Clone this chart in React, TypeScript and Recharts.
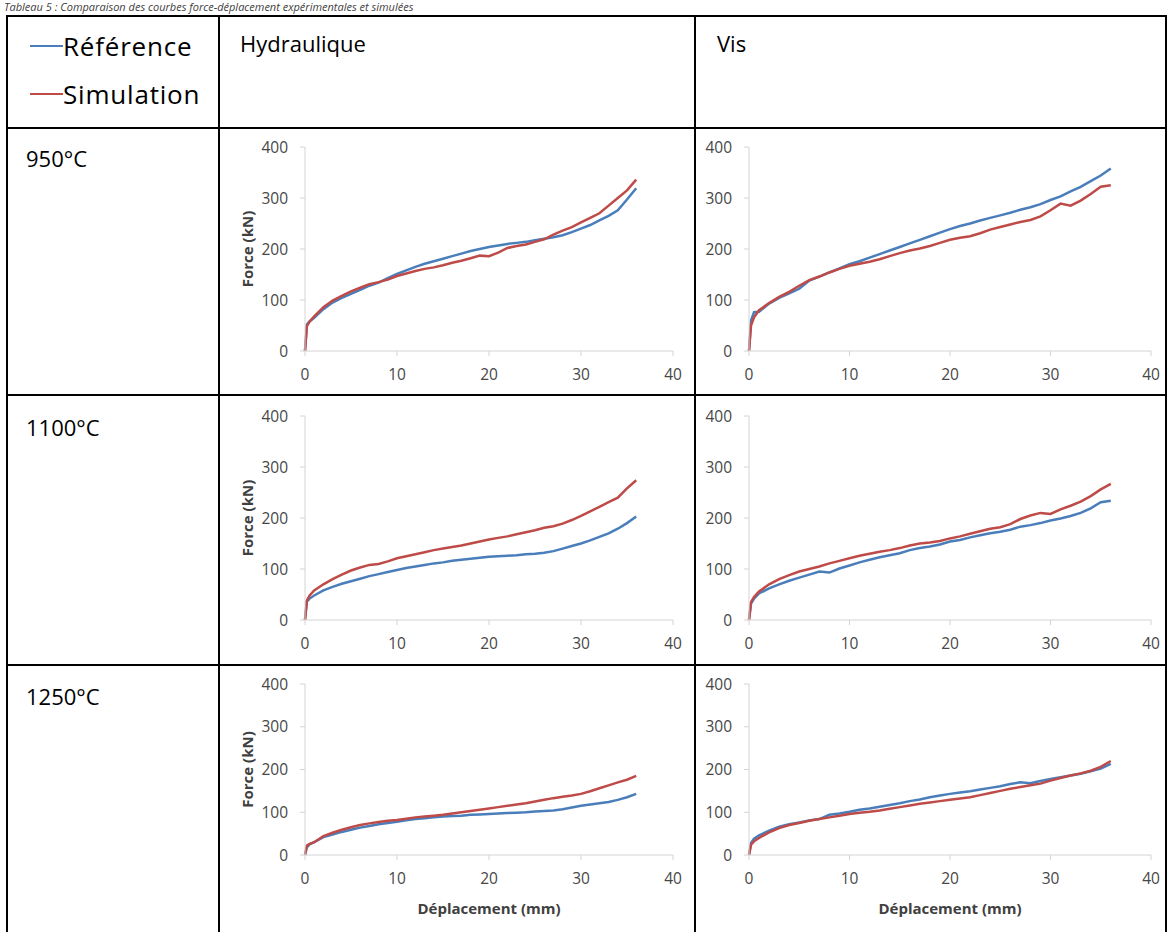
import React from "react";
import { LineChart, Line, XAxis, YAxis } from "recharts";

// displacement (mm) sampled along every curve
const displacement = [0, 0.2, 0.5, 1, 2, 3, 4, 5, 6, 7, 8, 9, 10, 11, 12, 13, 14, 15, 16, 17, 18, 19, 20, 21, 22, 23, 24, 25, 26, 27, 28, 29, 30, 31, 32, 33, 34, 35, 36];

// force (kN) — Référence / Simulation
const hyd950Ref = [0, 52, 58, 65, 82, 95, 104, 112, 120, 128, 134, 143, 151, 158, 165, 171, 176, 181, 186, 191, 196, 200, 204, 207, 210, 212, 214, 217, 220, 223, 227, 233, 240, 247, 256, 265, 276, 297, 319];
const hyd950Sim = [0, 48, 58, 68, 86, 99, 108, 117, 124, 131, 135, 140, 147, 152, 157, 161, 164, 168, 173, 177, 182, 187, 186, 193, 202, 206, 209, 214, 219, 228, 236, 243, 252, 261, 270, 285, 300, 315, 336];
const vis950Ref = [0, 60, 76, 77, 93, 104, 113, 122, 138, 146, 154, 162, 170, 176, 183, 190, 197, 204, 211, 218, 225, 232, 239, 245, 250, 256, 261, 266, 271, 277, 282, 288, 296, 303, 313, 322, 333, 344, 358];
const vis950Sim = [0, 50, 66, 80, 94, 106, 116, 128, 139, 146, 154, 161, 167, 171, 175, 180, 186, 192, 197, 201, 206, 212, 218, 222, 225, 231, 238, 243, 248, 253, 257, 264, 276, 289, 285, 295, 308, 322, 325];
const hyd1100Ref = [0, 36, 42, 48, 58, 65, 71, 76, 81, 86, 90, 94, 98, 102, 105, 108, 111, 113, 116, 118, 120, 122, 124, 125, 126, 127, 129, 130, 132, 135, 140, 145, 150, 156, 163, 170, 179, 190, 203];
const hyd1100Sim = [0, 38, 48, 58, 70, 80, 89, 97, 103, 108, 110, 115, 121, 125, 129, 133, 137, 140, 143, 146, 150, 154, 158, 161, 164, 168, 172, 176, 181, 184, 189, 196, 204, 213, 222, 231, 240, 258, 274];
const vis1100Ref = [0, 32, 42, 52, 62, 70, 77, 83, 89, 95, 93, 101, 107, 113, 118, 123, 127, 131, 137, 141, 144, 148, 154, 157, 162, 166, 170, 173, 177, 183, 186, 190, 195, 199, 204, 210, 219, 231, 234];
const vis1100Sim = [0, 35, 45, 56, 70, 80, 88, 95, 100, 105, 111, 116, 121, 126, 130, 134, 137, 141, 146, 150, 152, 155, 160, 164, 169, 174, 179, 182, 188, 198, 205, 210, 208, 217, 224, 232, 243, 256, 267];
const hyd1250Ref = [0, 18, 25, 30, 42, 48, 54, 59, 64, 68, 72, 75, 78, 81, 84, 86, 88, 90, 91, 92, 94, 95, 96, 97, 98, 99, 100, 102, 103, 104, 107, 111, 115, 118, 121, 124, 129, 135, 143];
const hyd1250Sim = [0, 22, 26, 30, 44, 52, 59, 65, 70, 74, 77, 80, 82, 85, 88, 90, 92, 94, 97, 100, 103, 106, 109, 112, 115, 118, 121, 125, 129, 133, 136, 139, 143, 149, 156, 163, 170, 176, 185];
const vis1250Ref = [0, 28, 38, 46, 57, 66, 72, 76, 81, 84, 94, 97, 101, 106, 109, 113, 117, 121, 126, 130, 135, 139, 143, 146, 149, 153, 157, 161, 166, 170, 168, 173, 178, 182, 186, 190, 196, 202, 213];
const vis1250Sim = [0, 24, 32, 40, 53, 63, 70, 75, 80, 84, 88, 92, 96, 99, 101, 104, 108, 112, 116, 120, 123, 126, 129, 132, 135, 140, 145, 150, 155, 159, 163, 167, 174, 180, 186, 191, 197, 206, 220];

const xTicks = [0, 10, 20, 30, 40];
const yTicks = [0, 100, 200, 300, 400];
const methods = ["Hydraulique", "Vis"];
const temperatures = ["950°C", "1100°C", "1250°C"];
const seriesNames = ["Référence", "Simulation"];

const BLUE = "#4a7ebb";
const RED = "#be4b48";
const AXIS = "#d4d4d4";
const FONT = "'Open Sans', sans-serif";

const build = (ref: number[], sim: number[]) =>
  displacement.map((x, i) => ({ x, ref: ref[i], sim: sim[i] }));

const YLabel = (props: any) => {
  const vb = props.viewBox;
  const cx = vb.x + 25;
  const cy = vb.y + vb.height / 2;
  return (
    <text x={cx} y={cy} transform={`rotate(-90 ${cx} ${cy})`} textAnchor="middle" dominantBaseline="central"
      fontFamily={FONT} fontWeight={700} fontSize={15} fill="#404040">
      Force (kN)
    </text>
  );
};

const XLabel = (props: any) => {
  const vb = props.viewBox;
  return (
    <text x={vb.x + vb.width / 2} y={vb.y + 53} textAnchor="middle" dominantBaseline="central"
      fontFamily={FONT} fontWeight={700} fontSize={15} fill="#404040">
      Déplacement (mm)
    </text>
  );
};

interface ChartProps {
  ref_: number[];
  sim: number[];
  left: number;
  top: number;
  width: number;
  height: number;
  yWidth: number;
  mRight: number;
  mTop: number;
  mBottom: number;
  xHeight: number;
  yLabel?: boolean;
  xLabel?: boolean;
}

function ForceChart(p: ChartProps) {
  const tick = { fill: "#474747", fontSize: 15.5, fontFamily: FONT };
  return (
    <div style={{ position: "absolute", left: p.left, top: p.top }}>
      <LineChart
        width={p.width}
        height={p.height}
        data={build(p.ref_, p.sim)}
        margin={{ top: p.mTop, right: p.mRight, bottom: p.mBottom, left: 0 }}
      >
        <XAxis
          type="number"
          dataKey="x"
          domain={[0, 40]}
          ticks={xTicks}
          height={p.xHeight}
          tick={tick}
          tickSize={5}
          tickMargin={13}
          axisLine={{ stroke: AXIS }}
          tickLine={{ stroke: AXIS }}
          label={p.xLabel ? XLabel : undefined}
        />
        <YAxis
          type="number"
          domain={[0, 400]}
          ticks={yTicks}
          width={p.yWidth}
          tick={tick}
          tickSize={5}
          tickMargin={12}
          axisLine={{ stroke: AXIS }}
          tickLine={{ stroke: AXIS }}
          label={p.yLabel ? YLabel : undefined}
        />
        <Line type="linear" dataKey="ref" name={seriesNames[0]} stroke={BLUE} strokeWidth={2.5} dot={false} isAnimationActive={false} />
        <Line type="linear" dataKey="sim" name={seriesNames[1]} stroke={RED} strokeWidth={2.5} dot={false} isAnimationActive={false} />
      </LineChart>
    </div>
  );
}

const hLines = [15, 127, 394, 664];
const vLines = [6, 218, 694, 1165];

export default function App() {
  const text: React.CSSProperties = { position: "absolute", fontFamily: FONT, color: "#000", whiteSpace: "nowrap" };
  const rows = [
    { top: 131, height: 263, mTop: 16, mBottom: 13, xHeight: 30, hyd: [hyd950Ref, hyd950Sim], vis: [vis950Ref, vis950Sim] },
    { top: 399, height: 262, mTop: 17, mBottom: 11, xHeight: 30, hyd: [hyd1100Ref, hyd1100Sim], vis: [vis1100Ref, vis1100Sim] },
    { top: 668, height: 264, mTop: 16, mBottom: 17, xHeight: 60, hyd: [hyd1250Ref, hyd1250Sim], vis: [vis1250Ref, vis1250Sim] },
  ];
  const rowLabelY = [158, 427, 696];
  return (
    <div style={{ position: "absolute", left: 0, top: 0, width: 1168, height: 932, overflow: "hidden", background: "#fff" }}>
      <div style={{ ...text, left: 4, top: 0, fontSize: 11, lineHeight: "13px", fontStyle: "italic", color: "#404040" }}>
        Tableau 5 : Comparaison des courbes force-déplacement expérimentales et simulées
      </div>

      {hLines.map((y) => (
        <div key={"h" + y} style={{ position: "absolute", left: 6, top: y, width: 1161, height: 2, background: "#000" }} />
      ))}
      {vLines.map((x) => (
        <div key={"v" + x} style={{ position: "absolute", left: x, top: 15, width: 2, height: 917, background: "#000" }} />
      ))}

      {/* legend cell */}
      {seriesNames.map((name, i) => (
        <div key={name} style={{ ...text, left: 30, top: i === 0 ? 29 : 77, height: 34, display: "flex", alignItems: "center" }}>
          <span style={{ display: "inline-block", width: 33, height: 2.5, background: i === 0 ? BLUE : RED }} />
          <span style={{ fontSize: 26, letterSpacing: 0.8 }}>{name}</span>
        </div>
      ))}

      {methods.map((m, i) => (
        <div key={m} style={{ ...text, left: i === 0 ? 240 : 717, top: 28, fontSize: 22, lineHeight: "30px" }}>{m}</div>
      ))}
      {temperatures.map((t, i) => (
        <div key={t} style={{ ...text, left: 26, top: rowLabelY[i] - 15, fontSize: 22, lineHeight: "30px" }}>{t}</div>
      ))}

      {rows.map((r, i) => (
        <React.Fragment key={i}>
          <ForceChart ref_={r.hyd[0]} sim={r.hyd[1]} left={222} top={r.top} width={470} height={r.height}
            yWidth={83} mRight={19} mTop={r.mTop} mBottom={r.mBottom} xHeight={r.xHeight} yLabel xLabel={i === 2} />
          <ForceChart ref_={r.vis[0]} sim={r.vis[1]} left={698} top={r.top} width={466} height={r.height}
            yWidth={51} mRight={13} mTop={r.mTop} mBottom={r.mBottom} xHeight={r.xHeight} xLabel={i === 2} />
        </React.Fragment>
      ))}
    </div>
  );
}
